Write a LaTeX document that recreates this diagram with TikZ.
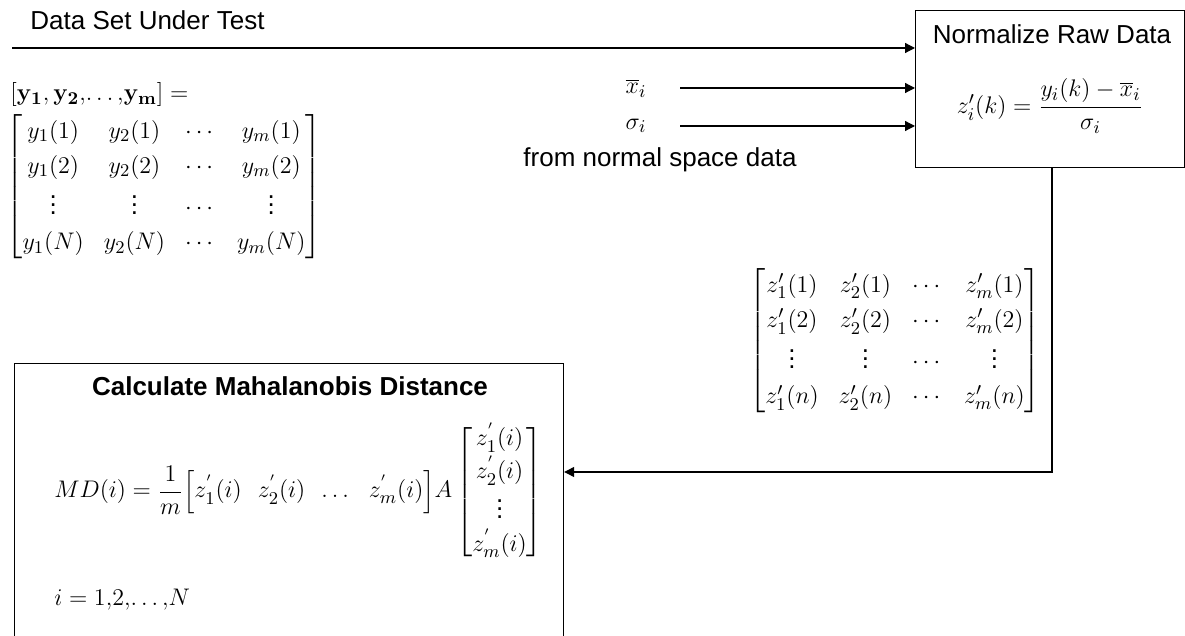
\documentclass[tikz,border=0pt]{standalone}
\usepackage{amsmath}
\usepackage[no-math]{fontspec}
\setmainfont{Liberation Sans}
\usetikzlibrary{arrows.meta}
\tikzset{
  flow box/.style={draw=black,line width=0.6pt,inner sep=0pt,anchor=north west},
  flow line/.style={black,line width=0.6pt,-{Triangle[length=5pt,width=5pt]}},
  flow label/.style={font=\fontsize{13}{15}\selectfont,inner sep=1pt},
  flow math/.style={font=\fontsize{13}{16}\selectfont,inner sep=1pt}
}
\newcommand{\zp}[2]{z^{\prime}_{#1}(#2)}
\newcommand{\zq}[2]{z^{'}_{#1}(#2)}
\newcommand{\tdots}{\ldotp\ldotp\ldotp}

\begin{document}
\begin{tikzpicture}[x=0.5pt,y=-0.5pt]
  \useasboundingbox (0,0) rectangle (1185,636);
  \clip (0,0) rectangle (1185,636);
  % boxes
  \node[flow box,minimum width=134.5pt,minimum height=78.5pt] (norm) at (915,10) {};
  \node[flow box,minimum width=274.5pt,minimum height=140pt] (mdbox) at (14,363) {};
  % texts
  \node[flow label,anchor=west] (dset) at (28,20) {Data Set Under Test};
  \node[flow label] (normtitle) at (1052,34) {Normalize Raw Data};
  \node[flow math] (normeq) at (1050,106)
    {$z'_{i}(k)=\dfrac{y_i(k)-\overline{x}_i}{\sigma_i}$};
  \node[flow math] (xbar) at (636,88) {$\overline{x}_i$};
  \node[flow math] (sig) at (636,126) {$\sigma_i$};
  \node[flow label] (fromnorm) at (660,160) {from normal space data};
  \node[flow math,anchor=west] (ylab) at (8,95)
    {$[\mathbf{y}_{\mathbf{1}}{,}\,\mathbf{y}_{\mathbf{2}}{,}\tdots{,}\mathbf{y}_{\mathbf{m}}]=$};
  \node[flow math] (ymat) at (164,187) {$\renewcommand{\arraystretch}{1.1}
    \begin{bmatrix}
      y_1(1) & y_2(1) & \cdots & y_m(1)\\
      y_1(2) & y_2(2) & \cdots & y_m(2)\\
      \vdots & \vdots & \cdots & \vdots\\
      y_1(N) & y_2(N) & \cdots & y_m(N)
    \end{bmatrix}$};
  \node[flow math] (zmat) at (895,341) {$\renewcommand{\arraystretch}{1.1}
    \begin{bmatrix}
      \zp{1}{1} & \zp{2}{1} & \cdots & \zp{m}{1}\\
      \zp{1}{2} & \zp{2}{2} & \cdots & \zp{m}{2}\\
      \vdots & \vdots & \cdots & \vdots\\
      \zp{1}{n} & \zp{2}{n} & \cdots & \zp{m}{n}
    \end{bmatrix}$};
  \node[flow label,font=\fontsize{13}{15}\selectfont\bfseries] (mdtitle) at (290,386)
    {Calculate Mahalanobis Distance};
  \node[flow math,anchor=west] (mdeq) at (52,492)
    {$MD(i)=\dfrac{1}{m}\Bigl[\zq{1}{i}\hspace{8pt}\zq{2}{i}\hspace{8pt}\tdots\hspace{8pt}\zq{m}{i}\Bigr]A
    \begin{bmatrix} \zq{1}{i}\\ \zq{2}{i}\\ \vdots\\ \zq{m}{i}\end{bmatrix}$};
  \node[flow math,anchor=west] (irange) at (52,600) {$i=1{,}2{,}\tdots{,}N$};
  % connectors
  \coordinate (dstart) at (12,48);
  \coordinate (xstart) at (680,88);
  \coordinate (sstart) at (680,126);
  \coordinate (turn) at (1052,472);
  \draw[flow line] (dstart) -- (dstart -| norm.west);
  \draw[flow line] (xstart) -- (xstart -| norm.west);
  \draw[flow line] (sstart) -- (sstart -| norm.west);
  \draw[flow line] (turn |- norm.south) -- (turn) -- (turn -| mdbox.east);
\end{tikzpicture}
\end{document}
